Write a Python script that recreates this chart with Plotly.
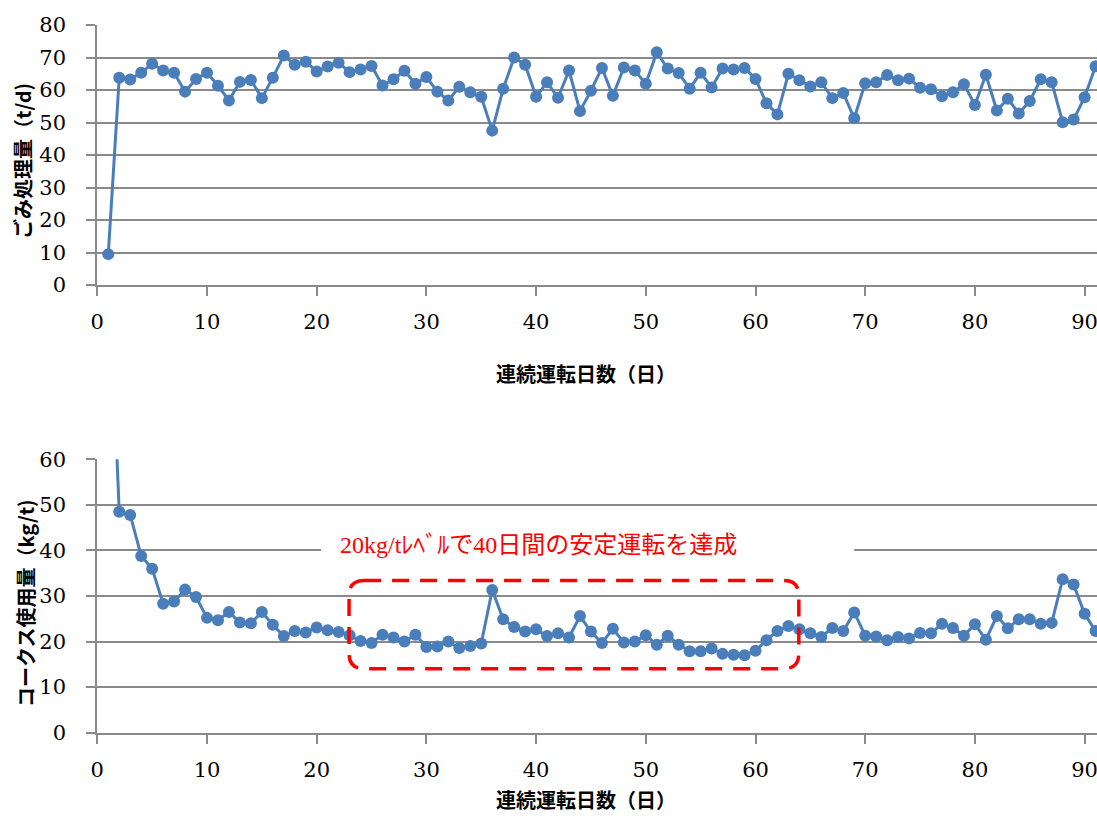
import plotly.graph_objects as go

# Days of continuous operation
days = list(range(1, 92))

# Waste throughput (t/d)
waste_td = [
    9.5, 63.8, 63.2, 65.3, 68.1, 66.0, 65.3, 59.5, 63.4, 65.3,
    61.3, 56.8, 62.5, 63.1, 57.5, 63.8, 70.6, 67.8, 68.7, 65.7,
    67.2, 68.4, 65.5, 66.3, 67.4, 61.4, 63.3, 65.9, 61.9, 64.0,
    59.5, 56.8, 61.0, 59.3, 57.9, 47.5, 60.4, 70.0, 67.8, 57.9,
    62.4, 57.6, 66.0, 53.5, 59.8, 66.8, 58.2, 66.9, 66.0, 61.9,
    71.6, 66.6, 65.2, 60.4, 65.3, 60.8, 66.6, 66.3, 66.8, 63.4,
    55.9, 52.5, 65.0, 63.0, 61.1, 62.4, 57.5, 59.1, 51.3, 62.1,
    62.4, 64.6, 63.0, 63.5, 60.7, 60.2, 58.1, 59.3, 61.8, 55.4,
    64.7, 53.7, 57.3, 52.8, 56.6, 63.3, 62.4, 50.1, 50.9, 57.8,
    67.3,
]

# Coke consumption (kg/t)
coke_kgt = [
    105.0, 48.5, 47.8, 38.8, 36.0, 28.3, 28.8, 31.4, 29.8, 25.2,
    24.7, 26.5, 24.2, 24.0, 26.5, 23.7, 21.2, 22.3, 22.0, 23.1,
    22.5, 22.1, 21.4, 20.1, 19.7, 21.5, 20.9, 20.0, 21.5, 18.8,
    18.9, 20.0, 18.6, 19.0, 19.6, 31.3, 24.9, 23.2, 22.2, 22.7,
    21.2, 21.8, 20.9, 25.6, 22.2, 19.7, 22.8, 19.8, 20.0, 21.4,
    19.3, 21.3, 19.3, 17.9, 17.9, 18.5, 17.3, 17.1, 17.0, 18.0,
    20.3, 22.3, 23.4, 22.7, 21.8, 21.0, 23.0, 22.3, 26.4, 21.3,
    21.1, 20.3, 21.0, 20.7, 21.9, 21.8, 23.9, 23.0, 21.3, 23.8,
    20.4, 25.6, 22.9, 24.9, 24.9, 23.9, 24.1, 33.7, 32.5, 26.1,
    22.3,
]

x_tickvals = [0, 10, 20, 30, 40, 50, 60, 70, 80, 90]
top_tickvals = [0, 10, 20, 30, 40, 50, 60, 70, 80]
bottom_tickvals = [0, 10, 20, 30, 40, 50, 60]
top_range = [0, 80]
bottom_range = [0, 60]

x_title = "連続運転日数（日）"
top_y_title = "ごみ処理量（t/d)"
bottom_y_title = "コークス使用量（kg/t)"
note_text = "20kg/tﾚﾍﾞﾙで40日間の安定運転を達成"

# Highlighted stable period (days / kg/t)
band_x0, band_x1 = 22.95, 63.95
band_y0, band_y1 = 14.05, 33.4

W, H = 1097, 816
LINE_BLUE = "#4A7EBB"
GRID = "#8a8a8a"
TICK_FONT = dict(family="DejaVu Serif, Liberation Serif, serif", size=21, color="#000000")
JP_BOLD = "Noto Sans CJK JP"

top_dom = [1 - 285 / H, 1 - 25 / H]
bot_dom = [1 - 732.7 / H, 1 - 459.3 / H]

fig = go.Figure()

fig.add_trace(go.Scatter(
    x=days, y=waste_td, mode="lines+markers",
    line=dict(color=LINE_BLUE, width=3),
    marker=dict(color=LINE_BLUE, size=12),
    xaxis="x", yaxis="y", showlegend=False,
))
fig.add_trace(go.Scatter(
    x=days, y=coke_kgt, mode="lines+markers",
    line=dict(color=LINE_BLUE, width=3),
    marker=dict(color=LINE_BLUE, size=12),
    xaxis="x2", yaxis="y2", showlegend=False,
))
# Empty traces that register the tick-label axes (y3 / y4)
for label_axis, x_axis in (("y3", "x"), ("y4", "x2")):
    fig.add_trace(go.Scatter(x=[], y=[], mode="markers", xaxis=x_axis,
                             yaxis=label_axis, showlegend=False,
                             hoverinfo="skip"))

x_left = 97.3 / W
x_max = (W - 97.3) / 10.97

common_x = dict(
    range=[0, x_max], tickvals=x_tickvals, showgrid=False, zeroline=False,
    showline=True, linecolor=GRID, linewidth=2,
    ticks="outside", ticklen=9, tickwidth=1.5, tickcolor=GRID,
    tickfont=TICK_FONT, ticklabelstandoff=8, ticklabeloverflow="allow",
    automargin=False, domain=[x_left, 1.0],
)
# Axes carrying grid, axis line and tick marks
common_y = dict(
    showgrid=True, gridcolor=GRID, gridwidth=1.6, zeroline=False,
    showline=True, linecolor=GRID, linewidth=2,
    ticks="outside", ticklen=9, tickwidth=1.5, tickcolor=GRID,
    showticklabels=False, automargin=False,
)
# Companion axes that carry the tick labels, set further left
label_y = dict(
    showgrid=False, zeroline=False, showline=False, ticks="",
    tickfont=TICK_FONT, automargin=False, anchor="free",
    position=66 / W, side="left", ticklabeloverflow="allow",
)

fig.update_layout(
    width=W, height=H,
    margin=dict(l=0, r=0, t=0, b=0),
    paper_bgcolor="white", plot_bgcolor="white",
    xaxis=dict(common_x, anchor="y"),
    yaxis=dict(common_y, range=top_range, tickvals=top_tickvals,
               domain=top_dom, anchor="x"),
    xaxis2=dict(common_x, anchor="y2"),
    yaxis2=dict(common_y, range=bottom_range, tickvals=bottom_tickvals,
                domain=bot_dom, anchor="x2"),
    yaxis3=dict(label_y, range=top_range, tickvals=top_tickvals,
                domain=top_dom, overlaying="y"),
    yaxis4=dict(label_y, range=bottom_range, tickvals=bottom_tickvals,
                domain=bot_dom, overlaying="y2"),
)

# White strip behind the note text, interrupting the 40 gridline
fig.add_shape(type="rect", xref="x2", yref="y2",
              x0=20.4, x1=69.0, y0=38.3, y1=41.7,
              fillcolor="white", line=dict(width=0), layer="above")

# Dashed rounded rectangle around the stable period
rx = 15 / 10.97
ry = 15 / 4.556
path = (
    f"M {band_x0 + rx},{band_y1} L {band_x1 - rx},{band_y1} "
    f"Q {band_x1},{band_y1} {band_x1},{band_y1 - ry} "
    f"L {band_x1},{band_y0 + ry} "
    f"Q {band_x1},{band_y0} {band_x1 - rx},{band_y0} "
    f"L {band_x0 + rx},{band_y0} "
    f"Q {band_x0},{band_y0} {band_x0},{band_y0 + ry} "
    f"L {band_x0},{band_y1 - ry} "
    f"Q {band_x0},{band_y1} {band_x0 + rx},{band_y1} Z"
)
fig.add_shape(type="path", xref="x2", yref="y2", path=path,
              line=dict(color="#FF0000", width=3.5, dash="17px,11px"),
              fillcolor="rgba(0,0,0,0)", layer="above")

fig.add_annotation(
    text=note_text, xref="x2", yref="y2", x=21.95, y=41.2,
    xanchor="left", yanchor="middle", showarrow=False,
    font=dict(family="Liberation Serif, Noto Sans CJK JP", size=24, color="#FF0000"),
)

title_font = dict(family=JP_BOLD, size=20, color="#000000", weight="bold")
for ty in (1 - 374 / H, 1 - 799 / H):
    fig.add_annotation(text=x_title, xref="paper", yref="paper",
                       x=586 / W, y=ty, xanchor="center", yanchor="middle",
                       showarrow=False, font=title_font)

fig.add_annotation(text=top_y_title, xref="paper", yref="paper",
                   x=23 / W, y=1 - 161 / H, xanchor="center", yanchor="middle",
                   textangle=-90, showarrow=False, font=title_font)
fig.add_annotation(text=bottom_y_title, xref="paper", yref="paper",
                   x=25 / W, y=1 - 603 / H, xanchor="center", yanchor="middle",
                   textangle=-90, showarrow=False, font=title_font)

fig.write_html("out.html")
